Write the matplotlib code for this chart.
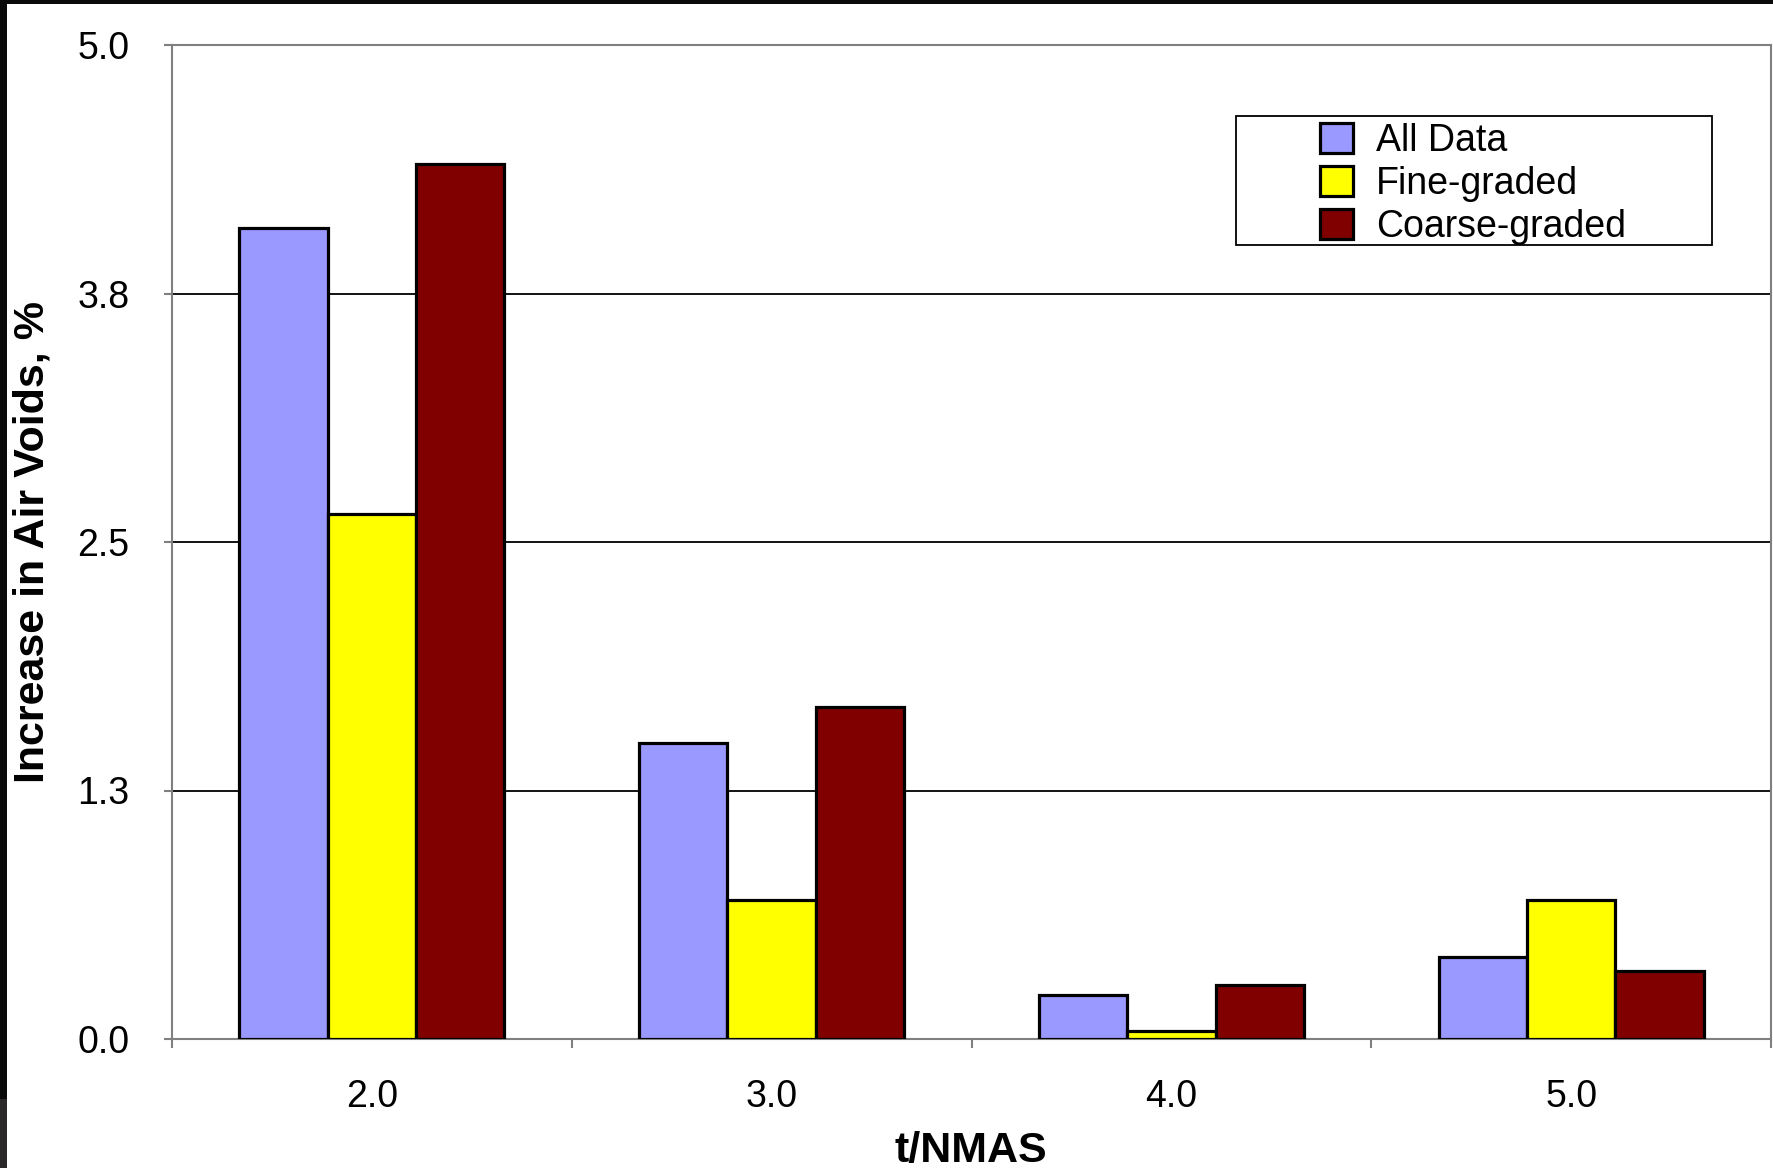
import matplotlib
matplotlib.use("Agg")
import matplotlib.pyplot as plt
from matplotlib.patches import Rectangle
import numpy as np

# Data
categories = ["2.0", "3.0", "4.0", "5.0"]
all_data = [4.08, 1.49, 0.22, 0.41]
fine_graded = [2.64, 0.70, 0.04, 0.70]
coarse_graded = [4.40, 1.67, 0.27, 0.34]
series_names = ["All Data", "Fine-graded", "Coarse-graded"]
y_ticks = [0.0, 1.25, 2.5, 3.75, 5.0]
y_tick_labels = ["0.0", "1.3", "2.5", "3.8", "5.0"]

colors = ["#9999FF", "#FFFF00", "#800000"]

plt.rcParams["font.family"] = ["Liberation Sans", "DejaVu Sans"]

W, H = 1773, 1168
fig = plt.figure(figsize=(W / 100, H / 100), dpi=100)
fig.patch.set_facecolor("white")

# axes placement in pixels
x0, x1, ytop, ybot = 172, 1771, 45, 1039
ax = fig.add_axes([x0 / W, 1 - ybot / H, (x1 - x0) / W, (ybot - ytop) / H])

x = np.arange(len(categories))
bw = 0.221
handles = []
for i, (vals, name, c) in enumerate(zip([all_data, fine_graded, coarse_graded], series_names, colors)):
    h = ax.bar(x + (i - 1) * bw, vals, width=bw, color=c, edgecolor="black",
               linewidth=2.3, label=name, zorder=3)
    handles.append(h)

ax.set_xlim(-0.5, len(categories) - 0.5)
ax.set_ylim(0, 5.0)

# y axis
ax.set_yticks(y_ticks)
ax.set_yticklabels(y_tick_labels)
ax.tick_params(axis="y", direction="out", length=5.8, width=1.5, color="#808080",
               labelsize=27, pad=25, labelcolor="black")
ax.yaxis.grid(True, color="black", linewidth=1.3)
ax.set_axisbelow(True)

# x axis: labels at category centres, tick marks at category boundaries
ax.set_xticks(x)
ax.set_xticklabels(categories)
ax.set_xticks(np.arange(-0.5, len(categories), 1.0), minor=True)
ax.tick_params(axis="x", which="major", length=0, labelsize=27, pad=29)
ax.tick_params(axis="x", which="minor", direction="out", length=6.5, width=1.5,
               color="#808080")

for s in ax.spines.values():
    s.set_color("#808080")
    s.set_linewidth(1.5)

# axis titles
fig.text(33 / W, 1 - 542 / H, "Increase in Air Voids, %", rotation=90,
         ha="center", va="center", fontsize=31, fontweight="bold")
fig.text(971 / W, 1 - 1162 / H, "t/NMAS", ha="center", va="baseline",
         fontsize=31, fontweight="bold")

# legend box and entries
lx0, lx1, ly0, ly1 = 1236, 1712, 116, 245
fig.patches.append(Rectangle((lx0 / W, 1 - ly1 / H), (lx1 - lx0) / W, (ly1 - ly0) / H,
                             transform=fig.transFigure, facecolor="white",
                             edgecolor="black", linewidth=1.3, zorder=5))
leg = fig.legend(handles=handles, labels=series_names, loc="center",
                 bbox_to_anchor=((lx0 + lx1) / 2 / W - 0.0005, 1 - ((ly0 + ly1) / 2 + 3.5) / H),
                 frameon=False, fontsize=27, handlelength=0.88, handleheight=0.85,
                 handletextpad=0.62, labelspacing=0.18, borderpad=0)
leg.set_zorder(6)

# dark screen border strips
fig.patches.append(Rectangle((0, 1 - 4 / H), 1, 4 / H, transform=fig.transFigure,
                             facecolor="#0a0a0a", edgecolor="none", zorder=10))
fig.patches.append(Rectangle((0, 1 - 1099 / H), 7 / W, 1099 / H, transform=fig.transFigure,
                             facecolor="#0a0a0a", edgecolor="none", zorder=10))
fig.patches.append(Rectangle((0, 0), 7 / W, 1 - 1099 / H, transform=fig.transFigure,
                             facecolor="#2a2828", edgecolor="none", zorder=10))

fig.savefig("out.png", dpi=100)
